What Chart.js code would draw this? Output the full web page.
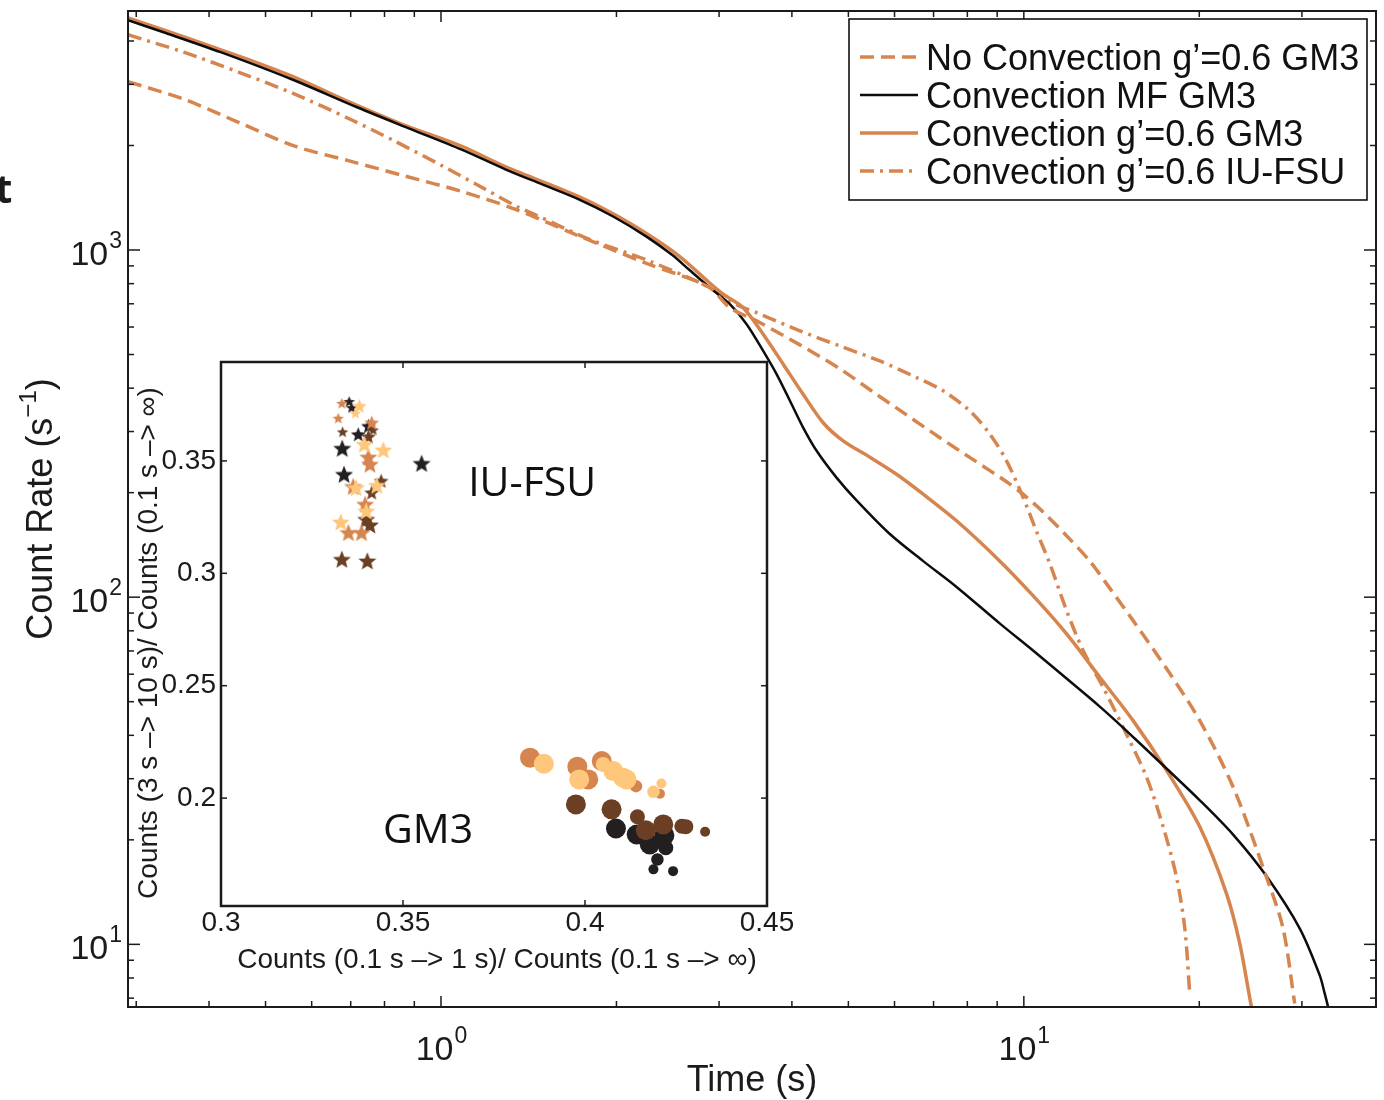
<!DOCTYPE html>
<html>
<head>
<meta charset="utf-8">
<script src="https://cdn.jsdelivr.net/npm/chart.js@4.4.1/dist/chart.umd.min.js"></script>
<style>
html,body{margin:0;padding:0;background:#ffffff;}
#wrap{position:relative;width:1384px;height:1100px;overflow:hidden;background:#ffffff;}
#main{position:absolute;left:0;top:0;}
#inset{position:absolute;left:130px;top:350px;}
</style>
</head>
<body>
<div id="wrap">
<canvas id="main" width="1384" height="1100"></canvas>
<canvas id="inset" width="700" height="640"></canvas>
</div>
<script>
// ---------------- MAIN PLOT DATA (time in s, count rate in 1/s) ----------------
const seriesNames = [
  'No Convection g\u2019=0.6 GM3',
  'Convection MF GM3',
  'Convection g\u2019=0.6 GM3',
  'Convection g\u2019=0.6 IU-FSU'
];

const noConvT = [0.2904,0.3619,0.4504,0.5612,0.6986,0.8702,1.083,1.349,1.680,2.252,2.878,3.131,3.479,4.129,4.834,5.514,6.293,7.178,8.185,9.34,9.97,10.79,11.99,12.98,14.05,15.40,17.57,20.04,22.86,26.09,27.85,29.16];
const noConvR = [3054,2720,2328,1992,1803,1631,1476,1306,1118,915,783,682,625,533,455,390,335,288,249,215,198,176,147,127,106,85.6,62.3,44.1,28.4,15.6,11.1,6.75];

const mfT = [0.2904,0.3362,0.4188,0.5530,0.7195,0.8830,1.083,1.292,1.495,1.731,1.974,2.252,2.494,2.66,2.893,3.131,3.345,3.571,3.765,3.969,4.182,4.410,4.771,5.164,5.890,6.720,7.666,9.10,10.37,11.84,13.50,14.80,17.57,20.04,22.86,26.09,29.75,32.19,32.83,33.27,33.6];
const mfR = [4588,4223,3714,3108,2573,2237,1949,1705,1543,1395,1249,1093,967,880,779,698,611,512,439,368,308,264,221,190,152,127,107,83.9,70.2,58.3,48.4,42.1,32.1,26.0,20.7,15.7,11.1,8.14,7.21,6.60,6.1];

const convT = [0.2904,0.3362,0.4066,0.4638,0.5612,0.6986,0.8576,1.083,1.292,1.731,2.003,2.318,2.569,2.878,3.050,3.300,3.571,3.865,4.182,4.526,4.898,5.444,6.048,6.720,7.666,9.10,10.37,11.84,13.50,15.40,17.57,20.04,22.27,23.47,24.58,24.9];
const convR = [4659,4291,3839,3552,3143,2661,2301,1992,1736,1421,1254,1081,957,809,746,682,572,469,384,318,282,253,226,198,166,127,101,78.4,58.8,44.1,31.7,21.8,14.0,10.05,6.60,6.1];

const iuT = [0.2904,0.3619,0.4504,0.5612,0.6986,0.8331,1.007,1.166,1.349,1.452,1.808,2.252,2.878,3.131,3.479,4.129,4.834,5.662,6.546,7.270,8.079,8.744,9.34,9.97,10.51,11.08,11.84,12.64,13.68,14.80,16.24,17.34,18.28,18.89,19.26];
const iuR = [4168,3714,3250,2812,2380,2059,1744,1526,1335,1263,1069,936,783,709,660,585,529,479,429,393,344,295,247,194,155,125,91.5,70.2,55.0,42.2,30.3,21.8,15.6,11.1,7.21];

// axis ticks
const xMajorTicks = [1, 10];
const xMajorExp   = ['0', '1'];
const xMinorTicks = [0.3,0.4,0.5,0.6,0.7,0.8,0.9,2,3,4,5,6,7,8,9,20,30];
const yMajorTicks = [10, 100, 1000];
const yMajorExp   = ['1', '2', '3'];
const yMinorTicks = [7,8,9,20,30,40,50,60,70,80,90,200,300,400,500,600,700,800,900,2000,3000,4000];

// ---------------- INSET DATA ----------------
// group: 0 black, 1 dark brown, 2 orange-brown, 3 light orange ; sizeClass 1..3
const iuFsuX = [0.3332,0.3352,0.3359,0.3380,0.3369,0.3322,0.3414,0.3405,0.3418,0.3334,0.3377,0.3405,0.3333,0.3394,0.3446,0.3405,0.3409,0.3551,0.3338,0.3363,0.3371,0.3440,0.3428,0.3414,0.3396,0.3399,0.3399,0.3409,0.3329,0.3350,0.3386,0.3332,0.3402];
const iuFsuY = [0.3756,0.3764,0.3737,0.3744,0.3712,0.3690,0.3670,0.3655,0.3638,0.3629,0.3618,0.3608,0.3556,0.3574,0.3549,0.3517,0.3485,0.3489,0.3440,0.3386,0.3381,0.3411,0.3391,0.3359,0.3307,0.3277,0.3240,0.3215,0.3228,0.3181,0.3181,0.3062,0.3055];
const iuFsuGroup = [2,0,0,3,3,2,2,0,1,1,0,1,0,3,3,2,2,0,0,2,3,1,3,1,2,3,1,1,3,2,2,1,1];
const iuFsuSize  = [1,1,1,2,1,1,2,2,1,1,2,2,3,3,3,3,3,3,3,3,3,2,3,2,3,3,3,3,3,3,3,3,3];

const gm3X = [0.3849,0.3887,0.3979,0.4009,0.3984,0.4046,0.4050,0.4078,0.4105,0.4114,0.4140,0.4188,0.4210,0.4206,0.3975,0.4073,0.4144,0.4085,0.4142,0.4167,0.4215,0.4218,0.4266,0.4277,0.4330,0.4178,0.4222,0.4199,0.4188,0.4242];
const gm3Y = [0.2180,0.2153,0.2140,0.2083,0.2083,0.2165,0.2150,0.2120,0.2091,0.2083,0.2053,0.2028,0.2065,0.2019,0.1972,0.1950,0.1917,0.1865,0.1838,0.1857,0.1883,0.1834,0.1875,0.1873,0.1850,0.1794,0.1779,0.1727,0.1683,0.1675];
const gm3Group = [2,3,2,2,3,2,3,3,3,3,2,3,3,2,1,1,1,0,0,1,1,0,1,1,1,0,0,0,0,0];
const gm3Size  = [3,3,3,3,3,3,2,3,3,3,1.5,1.5,1,1,3,3,2,3,3,3,3,3,2,2,1,3,2,1.5,1,1];

const insetXTicks = [0.3, 0.35, 0.4, 0.45];
const insetXLabels = ['0.3', '0.35', '0.4', '0.45'];
const insetYTicks = [0.2, 0.25, 0.3, 0.35];
const insetYLabels = ['0.2', '0.25', '0.3', '0.35'];
const insetAnnotations = [
  {text: 'IU-FSU', x: 0.3679, y: 0.3396},
  {text: 'GM3', x: 0.3445, y: 0.1852}
];

// ---------------- STYLE ----------------
const FONT = '"Liberation Sans", Arial, Helvetica, sans-serif';
const ORANGE = '#d6854f';
const INK = '#1c1a1a';
const groupColors = ['#231f20', '#6b3f24', '#d6854f', '#fec77c'];

function pts(t, r) { return t.map((v, i) => ({x: v, y: r[i]})); }
function seg(ctx, x1, y1, x2, y2) { ctx.beginPath(); ctx.moveTo(x1, y1); ctx.lineTo(x2, y2); ctx.stroke(); }

function drawPow(ctx, base, exp, x, baseline, align) {
  const fb = '34px ' + FONT, fe = '23px ' + FONT;
  ctx.font = fb; const wb = ctx.measureText(base).width;
  ctx.font = fe; const we = ctx.measureText(exp).width;
  const start = align === 'center' ? x - (wb + we) / 2 : x - (wb + we);
  ctx.textAlign = 'left'; ctx.textBaseline = 'alphabetic';
  ctx.font = fb; ctx.fillText(base, start, baseline);
  ctx.font = fe; ctx.fillText(exp, start + wb + 1, baseline - 17);
}

const lineStyles = [
  {color: ORANGE, width: 3.5, dash: [14, 7]},
  {color: '#0d0d0d', width: 2.5, dash: []},
  {color: ORANGE, width: 3.5, dash: []},
  {color: ORANGE, width: 3.5, dash: [14, 6, 3, 6]}
];

const mainDeco = {
  id: 'mainDeco',
  afterDraw(chart) {
    const ctx = chart.ctx, a = chart.chartArea, xs = chart.scales.x, ys = chart.scales.y;
    ctx.save();
    ctx.setLineDash([]);
    ctx.strokeStyle = INK; ctx.fillStyle = INK;
    ctx.lineWidth = 1.5;
    xMajorTicks.forEach(v => { const p = xs.getPixelForValue(v); seg(ctx, p, a.bottom, p, a.bottom - 11); seg(ctx, p, a.top, p, a.top + 11); });
    xMinorTicks.forEach(v => { const p = xs.getPixelForValue(v); seg(ctx, p, a.bottom, p, a.bottom - 6); seg(ctx, p, a.top, p, a.top + 6); });
    yMajorTicks.forEach(v => { const p = ys.getPixelForValue(v); seg(ctx, a.left, p, a.left + 12, p); seg(ctx, a.right, p, a.right - 12, p); });
    yMinorTicks.forEach(v => { const p = ys.getPixelForValue(v); seg(ctx, a.left, p, a.left + 6, p); seg(ctx, a.right, p, a.right - 6, p); });
    ctx.lineWidth = 2;
    ctx.strokeRect(a.left, a.top, a.right - a.left, a.bottom - a.top);

    // tick labels
    xMajorTicks.forEach((v, i) => drawPow(ctx, '10', xMajorExp[i], xs.getPixelForValue(v), a.bottom + 53, 'center'));
    yMajorTicks.forEach((v, i) => drawPow(ctx, '10', yMajorExp[i], a.left - 7, ys.getPixelForValue(v) + 15, 'right'));

    // axis titles
    ctx.font = '36px ' + FONT; ctx.textAlign = 'center'; ctx.textBaseline = 'alphabetic';
    ctx.fillText('Time (s)', (a.left + a.right) / 2, a.bottom + 84);

    ctx.save();
    ctx.translate(52, (a.top + a.bottom) / 2);
    ctx.rotate(-Math.PI / 2);
    const f1 = '36px ' + FONT, f2 = '24px ' + FONT;
    ctx.font = f1; const w1 = ctx.measureText('Count Rate (s').width; const w3 = ctx.measureText(')').width;
    ctx.font = f2; const w2 = ctx.measureText('\u22121').width;
    let sx = -(w1 + w2 + w3) / 2;
    ctx.textAlign = 'left';
    ctx.font = f1; ctx.fillText('Count Rate (s', sx, 0);
    ctx.font = f2; ctx.fillText('\u22121', sx + w1, -16);
    ctx.font = f1; ctx.fillText(')', sx + w1 + w2, 0);
    ctx.restore();

    // cropped label fragment at far left
    ctx.font = 'bold 40px "Open Sans", ' + FONT; ctx.textAlign = 'left';
    ctx.fillText('t', -5, 203);

    // legend
    const lx = a.right - 527, ly = a.top + 8, lw = 518, lh = 181;
    ctx.fillStyle = '#ffffff'; ctx.fillRect(lx, ly, lw, lh);
    ctx.strokeStyle = '#000'; ctx.lineWidth = 1.5; ctx.strokeRect(lx, ly, lw, lh);
    const rows = [57, 95, 133, 171];
    seriesNames.forEach((name, i) => {
      const st = lineStyles[i];
      ctx.strokeStyle = st.color; ctx.lineWidth = st.width; ctx.setLineDash(st.dash);
      seg(ctx, lx + 11, rows[i], lx + 69, rows[i]);
      ctx.setLineDash([]);
      ctx.fillStyle = '#111'; ctx.font = '36px ' + FONT; ctx.textAlign = 'left'; ctx.textBaseline = 'middle';
      ctx.fillText(name, lx + 77, rows[i] + 3);
    });
    ctx.restore();
  }
};

new Chart(document.getElementById('main'), {
  type: 'line',
  data: {
    datasets: [
      {label: seriesNames[0], data: pts(noConvT, noConvR)},
      {label: seriesNames[1], data: pts(mfT, mfR)},
      {label: seriesNames[2], data: pts(convT, convR)},
      {label: seriesNames[3], data: pts(iuT, iuR)}
    ].map((d, i) => Object.assign(d, {
      borderColor: lineStyles[i].color, borderWidth: lineStyles[i].width,
      borderDash: lineStyles[i].dash, pointRadius: 0, fill: false,
      tension: 0.3, borderCapStyle: 'butt', borderJoinStyle: 'round'
    }))
  },
  options: {
    responsive: false, animation: false, events: [],
    layout: {padding: {left: 128, right: 8, top: 11, bottom: 93}},
    scales: {
      x: {type: 'logarithmic', min: 0.2904, max: 40.2, display: false},
      y: {type: 'logarithmic', min: 6.6, max: 4880, display: false}
    },
    plugins: {legend: {display: false}, tooltip: {enabled: false}}
  },
  plugins: [mainDeco]
});

// ---------------- INSET ----------------
const starCache = {};
function starImg(color, R) {
  const key = color + R;
  if (starCache[key]) return starCache[key];
  const s = Math.ceil(2 * R + 3);
  const c = document.createElement('canvas'); c.width = s; c.height = s;
  const g = c.getContext('2d');
  g.translate(s / 2, s / 2 + R * 0.08);
  g.beginPath();
  for (let k = 0; k < 10; k++) {
    const rr = k % 2 === 0 ? R : R * 0.44;
    const ang = -Math.PI / 2 + k * Math.PI / 5;
    g.lineTo(rr * Math.cos(ang), rr * Math.sin(ang));
  }
  g.closePath(); g.fillStyle = color; g.fill();
  starCache[key] = c;
  return c;
}
const circleR = s => 2.5 * s + 2.5;
const starR = s => 1.75 * s + 4.25;

function groupDatasets(xArr, yArr, gArr, sArr, isStar) {
  const out = [];
  [3, 2, 1, 0].forEach(g => {
    const idx = gArr.map((v, i) => v === g ? i : -1).filter(i => i >= 0);
    const sizes = idx.map(i => sArr[i]);
    const color = groupColors[g];
    out.push({
      data: idx.map(i => ({x: xArr[i], y: yArr[i]})),
      pointRadius: c => isStar ? starR(sizes[c.dataIndex]) : circleR(sizes[c.dataIndex]),
      pointStyle: isStar ? (c => starImg(color, starR(sizes[c.dataIndex]))) : 'circle',
      pointBackgroundColor: color,
      pointBorderWidth: 0,
      pointBorderColor: color
    });
  });
  return out;
}

const insetDeco = {
  id: 'insetDeco',
  beforeDatasetsDraw(chart) {
    const {ctx, chartArea: a} = chart;
    ctx.save(); ctx.fillStyle = '#ffffff';
    ctx.fillRect(a.left, a.top, a.right - a.left, a.bottom - a.top);
    ctx.restore();
  },
  afterDatasetsDraw(chart) {
    const ctx = chart.ctx, a = chart.chartArea, xs = chart.scales.x, ys = chart.scales.y;
    ctx.save();
    ctx.strokeStyle = INK; ctx.fillStyle = INK;
    ctx.lineWidth = 1.5;
    insetXTicks.forEach(v => { const p = xs.getPixelForValue(v); seg(ctx, p, a.bottom, p, a.bottom - 6); seg(ctx, p, a.top, p, a.top + 6); });
    insetYTicks.forEach(v => { const p = ys.getPixelForValue(v); seg(ctx, a.left, p, a.left + 6, p); seg(ctx, a.right, p, a.right - 6, p); });
    ctx.lineWidth = 2.5;
    ctx.strokeRect(a.left, a.top, a.right - a.left, a.bottom - a.top);

    ctx.font = '28px ' + FONT; ctx.textBaseline = 'middle';
    ctx.textAlign = 'center';
    insetXTicks.forEach((v, i) => ctx.fillText(insetXLabels[i], xs.getPixelForValue(v), a.bottom + 17));
    ctx.textAlign = 'right';
    insetYTicks.forEach((v, i) => ctx.fillText(insetYLabels[i], a.left - 5, ys.getPixelForValue(v)));

    ctx.textAlign = 'center';
    ctx.fillText('Counts (0.1 s \u2013> 1 s)/ Counts (0.1 s \u2013> \u221e)', (a.left + a.right) / 2 + 3, a.bottom + 54);

    ctx.save();
    ctx.translate(27, (a.top + a.bottom) / 2 + 9);
    ctx.rotate(-Math.PI / 2);
    ctx.textBaseline = 'alphabetic';
    ctx.fillText('Counts (3 s \u2013> 10 s)/ Counts (0.1 s \u2013> \u221e)', 0, 0);
    ctx.restore();

    ctx.fillStyle = '#111';
    ctx.font = '41px "Open Sans", ' + FONT; ctx.textAlign = 'left'; ctx.textBaseline = 'middle';
    insetAnnotations.forEach(n => ctx.fillText(n.text, xs.getPixelForValue(n.x), ys.getPixelForValue(n.y)));
    ctx.restore();
  }
};

new Chart(document.getElementById('inset'), {
  type: 'scatter',
  data: {
    datasets: groupDatasets(gm3X, gm3Y, gm3Group, gm3Size, false)
      .concat(groupDatasets(iuFsuX, iuFsuY, iuFsuGroup, iuFsuSize, true))
  },
  options: {
    responsive: false, animation: false, events: [],
    layout: {padding: {left: 91, right: 63, top: 12, bottom: 84}},
    scales: {
      x: {type: 'linear', min: 0.3, max: 0.45, display: false},
      y: {type: 'linear', min: 0.152, max: 0.394, display: false}
    },
    plugins: {legend: {display: false}, tooltip: {enabled: false}}
  },
  plugins: [insetDeco]
});
</script>
</body>
</html>
